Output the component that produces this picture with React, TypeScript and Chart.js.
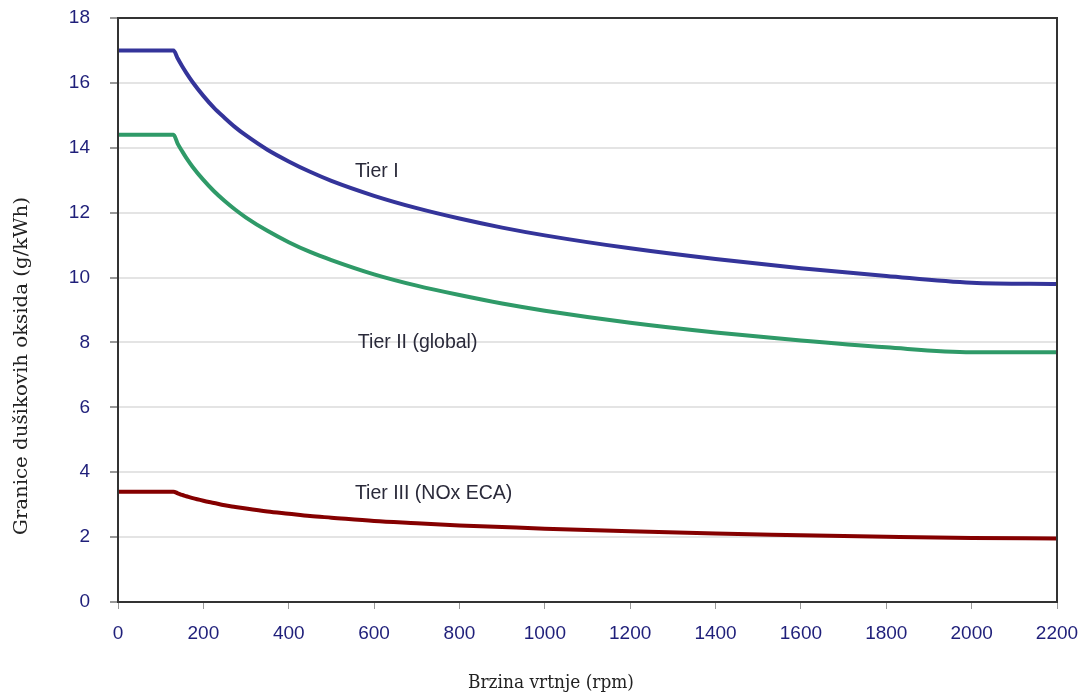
import React, { useEffect, useRef } from "react";
import { Chart, registerables } from "chart.js";

Chart.register(...registerables);

// Engine speed (rpm)
const speed = [0, 130, 140, 150, 160, 175, 200, 225, 250, 275, 300, 350, 400, 450, 500, 600, 700, 800, 900, 1000, 1200, 1400, 1600, 1800, 2000, 2200];
// NOx limits (g/kWh)
const tier1 = [17.0, 17.0, 16.75, 16.52, 16.31, 16.02, 15.6, 15.23, 14.92, 14.63, 14.38, 13.94, 13.58, 13.26, 12.98, 12.52, 12.14, 11.82, 11.54, 11.3, 10.9, 10.57, 10.29, 10.05, 9.84, 9.8];
const tier2 = [14.4, 14.4, 14.12, 13.9, 13.69, 13.41, 13.01, 12.66, 12.36, 12.09, 11.85, 11.44, 11.09, 10.79, 10.54, 10.1, 9.75, 9.46, 9.2, 8.98, 8.61, 8.31, 8.06, 7.85, 7.7, 7.7];
const tier3 = [3.4, 3.4, 3.35, 3.3, 3.26, 3.2, 3.12, 3.05, 2.98, 2.93, 2.88, 2.79, 2.72, 2.65, 2.6, 2.5, 2.43, 2.36, 2.31, 2.26, 2.18, 2.11, 2.06, 2.01, 1.97, 1.96];

const seriesNames = ["Tier I", "Tier II (global)", "Tier III (NOx ECA)"];
const seriesColors = ["#34349a", "#2f9a68", "#850000"];
// label anchor positions in data units [rpm, g/kWh]
const labelX = [555, 562, 555];
const labelY = [13.25, 8.0, 3.33];

const xTitle = "Brzina vrtnje (rpm)";
const yTitle = "Granice dušikovih oksida (g/kWh)";

function drawStretched(ctx: CanvasRenderingContext2D, text: string, target: number) {
  const w = ctx.measureText(text).width;
  const s = target / w;
  ctx.save();
  ctx.scale(s, 1);
  ctx.fillText(text, 0, 0);
  ctx.restore();
}

const extras = {
  id: "extras",
  afterDatasetsDraw(chart: any) {
    const { ctx, chartArea, scales } = chart;
    ctx.save();
    // frame
    ctx.strokeStyle = "#333";
    ctx.lineWidth = 2;
    ctx.strokeRect(chartArea.left, chartArea.top, chartArea.right - chartArea.left, chartArea.bottom - chartArea.top);
    // series labels
    ctx.fillStyle = "#2a2a3a";
    ctx.font = "19.5px 'Liberation Sans', Arial, sans-serif";
    ctx.textAlign = "left";
    ctx.textBaseline = "middle";
    seriesNames.forEach((n, i) => {
      ctx.fillText(n, scales.x.getPixelForValue(labelX[i]), scales.y.getPixelForValue(labelY[i]));
    });
    // axis titles
    ctx.fillStyle = "#222";
    ctx.font = "19px 'DejaVu Serif', serif";
    ctx.textAlign = "center";
    ctx.textBaseline = "middle";
    ctx.save();
    ctx.translate(551, 683);
    drawStretched(ctx, xTitle, 166);
    ctx.restore();
    ctx.save();
    ctx.translate(22, 366);
    ctx.rotate(-Math.PI / 2);
    drawStretched(ctx, yTitle, 338);
    ctx.restore();
    ctx.restore();
  },
};

export default function App() {
  const ref = useRef<HTMLCanvasElement>(null);
  useEffect(() => {
    const series = [tier1, tier2, tier3];
    const chart = new Chart(ref.current!, {
      type: "line",
      data: {
        datasets: series.map((s, i) => ({
          label: seriesNames[i],
          data: speed.map((x, j) => ({ x, y: s[j] })),
          borderColor: seriesColors[i],
          borderWidth: 4,
          pointRadius: 0,
          cubicInterpolationMode: "monotone" as const,
          fill: false,
        })),
      },
      options: {
        animation: false,
        responsive: true,
        maintainAspectRatio: false,
        layout: { padding: { top: 18, right: 24, left: 0, bottom: 0 } },
        plugins: { legend: { display: false }, tooltip: { enabled: false } },
        scales: {
          x: {
            type: "linear",
            min: 0,
            max: 2200,
            afterFit: (s: any) => { s.height = 98; s.paddingLeft = 0; s.paddingRight = 0; },
            ticks: {
              stepSize: 200,
              color: "#1f1f7a",
              font: { family: "'Liberation Sans', Arial, sans-serif", size: 19 },
              padding: 13,
              maxRotation: 0,
              callback: (v: any) => String(v),
            },
            grid: { drawOnChartArea: false, drawTicks: true, tickLength: 7, tickColor: "#999" },
            border: { color: "#333", width: 2 },
          },
          y: {
            min: 0,
            max: 18,
            afterFit: (s: any) => { s.width = 118; s.paddingTop = 0; s.paddingBottom = 0; },
            ticks: { stepSize: 2, color: "#1f1f7a", font: { family: "'Liberation Sans', Arial, sans-serif", size: 19 }, padding: 20 },
            grid: { color: "#e4e4e4", lineWidth: 2, drawTicks: true, tickLength: 8, tickColor: "#999" },
            border: { color: "#333", width: 2 },
          },
        },
      },
      plugins: [extras],
    });
    return () => chart.destroy();
  }, []);
  return (
    <div style={{ position: "fixed", left: 0, top: 0, width: 1081, height: 700, background: "#fff" }}>
      <canvas ref={ref} />
    </div>
  );
}
